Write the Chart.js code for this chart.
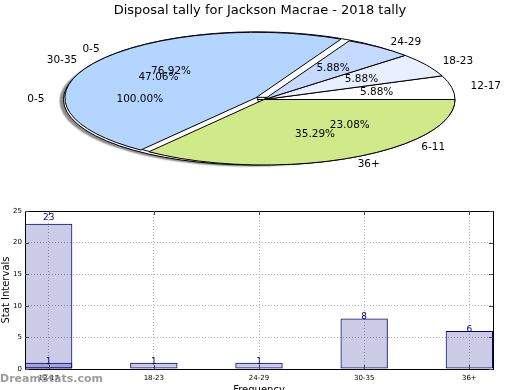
<!DOCTYPE html>
<html>
<head>
<meta charset="utf-8">
<script src="https://cdn.jsdelivr.net/npm/chart.js@4/dist/chart.umd.min.js"></script>
<style>
html, body { margin: 0; padding: 0; background: #fff; overflow: hidden; width: 520px; height: 390px; }
#wrap { position: relative; width: 520px; height: 390px; }
.pie { position: absolute; left: 0; top: 0; }
#bars { position: absolute; left: 0; top: 190px; }
</style>
</head>
<body>
<div id="wrap">
<canvas id="pieAll" class="pie" width="520" height="190"></canvas>
<canvas id="pieSplit" class="pie" width="520" height="190"></canvas>
<canvas id="pieTally" class="pie" width="520" height="190"></canvas>
<canvas id="bars" width="520" height="210"></canvas>
</div>
<script>
// three pies get drawn over each other, the last one covers the others
var allLabels = ["0-5"];
var allValues = [23];

var splitLabels = ["0-5", "6-11"];
var splitValues = [10, 3];

var tallyLabels = ["12-17", "18-23", "24-29", "30-35", "36+"];
var tallyValues = [1, 1, 1, 8, 6];

var pieColors = ["#ffffff", "#e8f0ff", "#c6d9ff", "#b3d5ff", "#d0ea8a"];

// bar chart
var freqLabels = ["12-17", "18-23", "24-29", "30-35", "36+"];
var tallyFirst = [23];
var tallyAge = [1, 1, 1, 8, 6];

var chartTitle = "Disposal tally for Jackson Macrae - 2018 tally";

Chart.defaults.font.family = "'DejaVu Sans', sans-serif";
Chart.defaults.color = "#000";

// where the flattened pie sits on the page
var PIE = { cx: 264, cy: 99.5, rx: 191, ry: 65.5, explode: 0.05 };

function biggest(values) {
	return values.indexOf(Math.max.apply(null, values));
}

// map chart space of an arc onto the ellipse (flipped so slices go counter clockwise)
function placeArc(ctx, arc, expl) {
	var mid = (arc.startAngle + arc.endAngle) / 2;
	var R = arc.outerRadius;
	ctx.translate(PIE.cx + expl * PIE.rx * Math.cos(mid), PIE.cy - expl * PIE.ry * Math.sin(mid));
	ctx.scale(PIE.rx / R, -PIE.ry / R);
	ctx.translate(-arc.x, -arc.y);
}

var ellipsePie = {
	id: 'ellipsePie',
	beforeDatasetDraw: function(chart, args, opts) {
		var ctx = chart.ctx;
		args.meta.data.forEach(function(arc, i) {
			var expl = (i == opts.big) ? PIE.explode : 0;
			ctx.save();
			if (opts.shadow) {
				ctx.shadowColor = 'rgba(0,0,0,0.45)';
				ctx.shadowOffsetX = -4;
				ctx.shadowOffsetY = 1.5;
				ctx.shadowBlur = 1.5;
			}
			placeArc(ctx, arc, expl);
			arc.draw(ctx);
			ctx.restore();
			// edge line, built in the squashed space but stroked with a normal pen
			ctx.save();
			placeArc(ctx, arc, expl);
			ctx.beginPath();
			ctx.moveTo(arc.x, arc.y);
			ctx.arc(arc.x, arc.y, arc.outerRadius, arc.startAngle, arc.endAngle);
			ctx.closePath();
			ctx.restore();
			ctx.save();
			ctx.lineWidth = 1;
			ctx.strokeStyle = '#000';
			ctx.stroke();
			ctx.restore();
		});
		return false;
	}
};

function drawPieLabels(ctx, chart) {
	var meta = chart.getDatasetMeta(0);
	var values = chart.data.datasets[0].data;
	var total = values.reduce(function(a, b) { return a + b; }, 0);
	var big = biggest(values);
	meta.data.forEach(function(arc, i) {
		var mid = (arc.startAngle + arc.endAngle) / 2;
		var e = (i == big) ? PIE.explode : 0;
		var c = Math.cos(mid), s = Math.sin(mid);
		ctx.textBaseline = 'middle';
		ctx.textAlign = c > 0 ? 'left' : 'right';
		ctx.fillText(chart.data.labels[i], PIE.cx + (e + 1.1) * PIE.rx * c, PIE.cy - (e + 1.1) * PIE.ry * s);
		ctx.textAlign = 'center';
		ctx.fillText((values[i] / total * 100).toFixed(2) + '%', PIE.cx + (e + 0.6) * PIE.rx * c, PIE.cy - (e + 0.6) * PIE.ry * s);
	});
}

var lowerPies = [];

var pieText = {
	id: 'pieText',
	afterDraw: function(chart) {
		var ctx = chart.ctx;
		ctx.save();
		ctx.font = "10.5px 'DejaVu Sans', sans-serif";
		ctx.fillStyle = '#000';
		lowerPies.forEach(function(p) { drawPieLabels(ctx, p); });
		drawPieLabels(ctx, chart);
		ctx.restore();
	}
};

function makePie(id, labels, values, shadow, title) {
	return new Chart(document.getElementById(id), {
		type: 'pie',
		data: {
			labels: labels,
			datasets: [{ data: values, backgroundColor: pieColors.slice(0, values.length), borderWidth: 0 }]
		},
		options: {
			responsive: false,
			animation: false,
			devicePixelRatio: 1,
			events: [],
			rotation: 90,
			layout: { padding: 0 },
			plugins: {
				legend: { display: false },
				tooltip: { enabled: false },
				title: {
					display: !!title,
					text: title || '',
					font: { size: 13, weight: 'normal' },
					color: '#000',
					padding: { top: 3, bottom: 0 }
				},
				ellipsePie: { shadow: shadow, big: biggest(values) }
			}
		},
		plugins: title ? [ellipsePie, pieText] : [ellipsePie]
	});
}

lowerPies.push(makePie('pieAll', allLabels, allValues, true, null));
lowerPies.push(makePie('pieSplit', splitLabels, splitValues, false, null));
var tallyPie = makePie('pieTally', tallyLabels, tallyValues, false, chartTitle);

// ---------- bars ----------
var barWidth = 0.45;
var labelLift = [6, 1.5];

function pts(values) {
	return values.map(function(v, i) { return { x: i, y: v }; });
}

var barFrame = {
	id: 'barFrame',
	afterDatasetsDraw: function(chart) {
		var ctx = chart.ctx, a = chart.chartArea;
		var xs = chart.scales.x, ys = chart.scales.y;
		ctx.save();
		ctx.strokeStyle = '#000';
		ctx.lineWidth = 1;
		ctx.strokeRect(a.left + 0.5, a.top + 0.5, a.right - a.left, a.bottom - a.top);
		ctx.strokeStyle = '#444';
		ctx.beginPath();
		ys.ticks.forEach(function(t) {
			var py = Math.round(ys.getPixelForValue(t.value)) + 0.5;
			ctx.moveTo(a.left, py); ctx.lineTo(a.left + 4, py);
			ctx.moveTo(a.right, py); ctx.lineTo(a.right - 4, py);
		});
		xs.ticks.forEach(function(t) {
			var px = Math.round(xs.getPixelForValue(t.value)) + 0.5;
			ctx.moveTo(px, a.bottom); ctx.lineTo(px, a.bottom - 4);
			ctx.moveTo(px, a.top); ctx.lineTo(px, a.top + 4);
		});
		ctx.stroke();

		// value on top of each bar
		ctx.font = "9px 'DejaVu Sans', sans-serif";
		ctx.fillStyle = '#000080';
		ctx.textAlign = 'center';
		ctx.textBaseline = 'middle';
		chart.data.datasets.forEach(function(ds, di) {
			chart.getDatasetMeta(di).data.forEach(function(bar, i) {
				ctx.fillText(ds.data[i].y, bar.x, bar.y - labelLift[di]);
			});
		});
		ctx.restore();
	},
	afterDraw: function(chart) {
		var ctx = chart.ctx, a = chart.chartArea;
		ctx.save();
		ctx.font = "bold 11px 'DejaVu Sans', sans-serif";
		ctx.fillStyle = 'rgba(130,130,130,0.8)';
		ctx.textAlign = 'left';
		ctx.textBaseline = 'middle';
		ctx.fillText('DreamStats.com', 0, a.bottom + 10);
		ctx.restore();
	}
};

var barStyle = {
	backgroundColor: 'rgba(0,0,128,0.2)',
	borderColor: '#000080',
	borderWidth: 1,
	borderSkipped: false,
	grouped: false,
	barPercentage: barWidth,
	categoryPercentage: 1
};

var barChart = new Chart(document.getElementById('bars'), {
	type: 'bar',
	data: {
		datasets: [
			Object.assign({ label: 'first', data: pts(tallyFirst) }, barStyle),
			Object.assign({ label: 'age', data: pts(tallyAge) }, barStyle)
		]
	},
	options: {
		responsive: false,
		animation: false,
		devicePixelRatio: 1,
		events: [],
		layout: { padding: { left: 0, right: 27, top: 21, bottom: 0 } },
		plugins: { legend: { display: false }, tooltip: { enabled: false } },
		scales: {
			x: {
				type: 'linear',
				offset: false,
				min: -barWidth / 2,
				max: freqLabels.length - 1 + barWidth / 2,
				afterBuildTicks: function(s) {
					s.ticks = freqLabels.map(function(l, i) { return { value: i }; });
				},
				afterFit: function(s) { s.height = 31; },
				ticks: {
					callback: function(v) { return freqLabels[v]; },
					font: { size: 7 },
					color: '#000',
					padding: 5,
					maxRotation: 0,
					autoSkip: false
				},
				grid: { color: '#b0b0b0', drawTicks: false, offset: false },
				border: { display: false, dash: [1, 2] },
				title: { display: true, text: 'Frequency', font: { size: 10 }, color: '#000', padding: { top: 0, bottom: 4 } }
			},
			y: {
				min: 0,
				max: 25,
				afterFit: function(s) { s.width = 25; },
				ticks: { stepSize: 5, font: { size: 7 }, color: '#000', padding: 3 },
				grid: { color: '#b0b0b0', drawTicks: false },
				border: { display: false, dash: [1, 2] },
				title: { display: true, text: 'Stat Intervals', font: { size: 10 }, color: '#000', padding: 0 }
			}
		}
	},
	plugins: [barFrame]
});
</script>
</body>
</html>
